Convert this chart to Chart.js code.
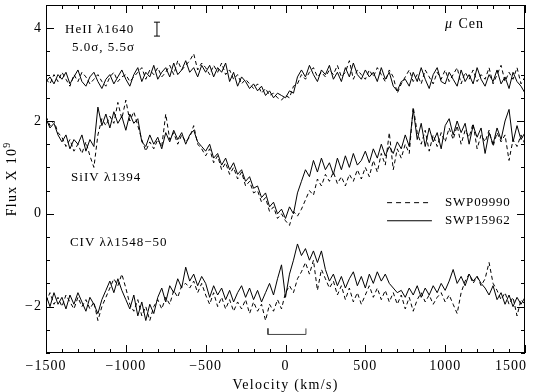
<!DOCTYPE html>
<html>
<head>
<meta charset="utf-8">
<script src="https://cdn.jsdelivr.net/npm/chart.js@4.4.1/dist/chart.umd.min.js"></script>
<style>
  html, body { margin: 0; padding: 0; background: #fff; }
  canvas { display: block; }
</style>
</head>
<body>
<canvas id="chart" width="540" height="392"></canvas>
<script>
// velocity grid (km/s)
const velocity = [
  -1500,-1475,-1450,-1425,-1400,-1375,-1350,-1325,-1300,-1275,
  -1250,-1225,-1200,-1175,-1150,-1125,-1100,-1075,-1050,-1025,
  -1000,-975,-950,-925,-900,-875,-850,-825,-800,-775,
  -750,-725,-700,-675,-650,-625,-600,-575,-550,-525,
  -500,-475,-450,-425,-400,-375,-350,-325,-300,-275,
  -250,-225,-200,-175,-150,-125,-100,-75,-50,-25,
  0,25,50,75,100,125,150,175,200,225,
  250,275,300,325,350,375,400,425,450,475,
  500,525,550,575,600,625,650,675,700,725,
  750,775,800,825,850,875,900,925,950,975,
  1000,1025,1050,1075,1100,1125,1150,1175,1200,1225,
  1250,1275,1300,1325,1350,1375,1400,1425,1450,1475,1500
];

// HeII 1640 (offset +3)
const heiiSolid = [
  2.85,2.95,2.8,3.0,2.9,3.05,2.8,2.95,3.1,2.85,
  2.75,2.95,3.05,2.85,2.7,2.9,3.0,2.8,2.95,3.1,
  2.9,2.75,3.0,3.15,2.85,3.05,2.95,3.2,2.9,3.05,
  3.15,2.95,3.25,3.0,3.1,3.3,3.05,3.15,2.95,3.2,
  3.05,3.2,2.95,3.15,3.05,3.25,2.85,3.05,2.75,2.95,
  2.85,2.7,2.8,2.65,2.75,2.55,2.65,2.5,2.6,2.55,
  2.5,2.65,2.6,2.95,3.1,2.95,3.2,3.0,2.85,3.1,
  3.0,3.2,2.9,3.05,2.85,3.15,2.95,3.25,3.0,2.9,
  3.1,2.95,3.05,2.85,3.15,2.9,3.05,2.75,2.65,2.85,
  2.9,2.75,3.05,2.85,3.15,2.9,2.7,3.0,3.15,2.85,
  2.8,3.05,2.9,2.75,3.1,2.85,3.0,2.8,3.15,2.9,
  2.75,3.0,2.85,3.1,2.8,2.95,2.7,3.05,2.85,2.75,2.6
];
const heiiDashed = [
  2.9,2.8,3.0,2.85,3.05,2.9,2.75,3.0,2.85,3.05,
  2.95,2.8,2.9,3.0,2.85,2.75,2.95,3.05,2.85,2.95,
  3.0,2.85,2.95,3.05,3.15,2.9,3.1,3.0,3.15,2.95,
  3.05,3.2,3.0,3.3,3.1,3.2,3.3,3.45,3.1,3.25,
  3.15,3.0,3.2,3.05,3.25,3.0,3.1,2.9,3.0,2.8,
  2.9,2.8,2.7,2.8,2.6,2.7,2.55,2.6,2.5,2.45,
  2.55,2.5,2.75,2.8,3.0,2.9,3.05,3.15,2.95,3.05,
  2.95,3.1,3.0,3.2,2.95,3.05,3.3,2.9,3.1,3.0,
  2.9,3.1,2.95,3.15,3.0,2.85,3.1,2.95,2.6,2.8,
  2.95,3.1,2.85,3.0,2.8,3.1,2.95,2.8,3.05,2.9,
  3.1,2.85,3.0,3.15,2.8,3.05,2.9,3.1,2.85,3.0,
  2.9,3.15,2.8,3.0,3.2,2.85,3.05,2.9,3.15,2.8,2.95
];

// SiIV 1394 (no offset)
const siivSolid = [
  2.05,1.85,1.95,1.7,1.55,1.7,1.4,1.6,1.5,1.7,
  1.35,1.6,1.45,2.3,1.9,2.15,1.85,2.2,1.95,2.1,
  1.8,2.15,1.95,2.05,1.55,1.45,1.7,1.5,1.65,1.4,
  1.75,1.55,1.8,1.6,1.75,1.5,1.7,1.8,1.55,1.45,
  1.35,1.5,1.2,1.3,1.05,1.2,0.95,1.1,0.85,0.95,
  0.7,0.8,0.55,0.6,0.35,0.45,0.15,0.25,0.0,0.1,
  -0.1,0.15,0.0,0.45,0.7,0.95,0.8,1.15,0.9,1.2,
  0.95,1.1,0.85,1.2,0.95,1.25,1.0,1.3,1.05,1.15,
  1.35,1.1,1.4,1.2,1.5,1.25,1.45,1.3,1.55,1.4,
  1.7,1.45,2.25,1.6,1.95,1.45,1.85,1.55,1.75,1.4,
  1.9,2.05,1.7,2.0,1.75,1.95,1.5,1.9,1.65,1.85,
  1.3,1.75,1.5,1.85,1.6,2.0,2.25,1.55,1.9,1.6,1.75
];
const siivDashed = [
  2.1,1.9,2.0,1.75,1.65,1.45,1.6,1.35,1.5,1.3,
  1.55,1.25,1.0,1.7,2.05,1.9,2.1,1.95,2.4,2.05,
  2.45,2.0,2.2,1.9,1.6,1.35,1.55,1.4,1.6,1.45,
  2.15,1.6,1.75,1.5,1.7,1.55,1.65,1.9,1.5,1.4,
  1.25,1.4,1.1,1.25,0.95,1.1,0.85,1.0,0.75,0.9,
  0.6,0.7,0.45,0.5,0.25,0.35,0.05,0.15,-0.1,0.0,
  -0.15,-0.25,0.05,-0.05,0.1,0.3,0.5,0.4,0.75,0.6,
  0.85,0.7,0.9,0.65,0.8,0.6,0.85,0.7,0.95,0.75,
  1.0,0.8,1.15,0.9,1.3,1.05,1.75,0.95,1.4,1.2,
  1.5,1.3,2.3,1.75,1.5,1.8,1.35,1.7,1.45,1.75,
  1.55,1.85,1.6,1.9,1.5,1.8,1.65,1.95,1.4,1.7,
  1.55,1.8,1.45,1.75,1.55,1.7,1.15,1.6,1.45,1.7,1.5
];

// CIV 1548-50 (offset -2)
const civSolid = [
  -1.75,-2.0,-1.7,-1.95,-1.8,-2.05,-1.75,-1.95,-1.7,-1.9,
  -2.1,-1.8,-1.95,-2.15,-1.85,-1.65,-1.45,-1.7,-1.4,-1.65,
  -1.85,-2.05,-1.75,-2.2,-1.9,-2.3,-1.95,-2.15,-1.8,-1.6,
  -1.9,-1.55,-1.7,-1.4,-1.6,-1.15,-1.45,-1.3,-1.55,-1.35,
  -1.5,-1.8,-1.55,-1.75,-1.6,-1.85,-1.65,-1.9,-1.7,-1.55,
  -1.8,-1.6,-1.85,-1.65,-1.9,-1.7,-1.5,-1.75,-1.4,-1.1,
  -1.8,-1.3,-1.0,-0.65,-0.9,-0.75,-1.0,-0.8,-1.05,-0.8,
  -1.2,-1.45,-1.3,-1.55,-1.35,-1.6,-1.4,-1.25,-1.55,-1.35,
  -1.6,-1.3,-1.5,-1.25,-1.45,-1.3,-1.5,-1.6,-1.7,-1.65,
  -1.8,-1.6,-1.75,-1.55,-1.8,-1.6,-1.75,-1.55,-1.7,-1.5,
  -1.65,-1.45,-1.2,-1.5,-1.35,-1.55,-1.3,-1.45,-1.35,-1.5,
  -1.6,-1.75,-1.55,-1.85,-1.7,-1.95,-1.75,-2.0,-1.8,-1.95,-1.8
];
const civDashed = [
  -1.9,-1.7,-1.95,-1.8,-2.0,-1.75,-1.9,-2.05,-1.8,-2.0,
  -1.85,-2.05,-1.9,-2.3,-2.0,-1.8,-1.6,-1.4,-1.55,-1.3,
  -1.6,-1.95,-2.1,-1.85,-2.2,-2.0,-2.3,-2.0,-1.85,-2.05,
  -1.8,-1.95,-1.65,-1.8,-1.55,-1.5,-1.6,-1.45,-1.7,-1.5,
  -1.75,-1.95,-1.7,-2.0,-1.8,-2.05,-1.85,-2.1,-1.9,-2.05,
  -1.85,-2.15,-1.9,-2.1,-1.95,-2.3,-1.95,-2.1,-1.85,-2.05,
  -1.7,-1.55,-1.7,-1.4,-1.25,-1.05,-1.3,-1.0,-1.65,-1.2,
  -1.4,-1.6,-1.45,-1.75,-1.55,-1.85,-1.6,-1.9,-1.7,-1.95,
  -1.75,-1.55,-1.8,-1.6,-1.85,-1.65,-1.9,-1.7,-1.95,-1.75,
  -2.05,-1.8,-2.1,-1.85,-1.7,-1.9,-1.75,-1.95,-1.8,-1.7,
  -1.9,-1.75,-1.95,-2.15,-1.7,-1.45,-1.3,-1.5,-1.35,-1.55,
  -1.4,-1.05,-1.5,-1.65,-1.85,-1.7,-1.95,-1.8,-2.2,-1.85,-1.95
];

const xTickLabels = [-1500, -1000, -500, 0, 500, 1000, 1500];
const yTickLabels = [-2, 0, 2, 4];
const seriesNames = ['SWP09990', 'SWP15962'];

// error bar on HeII and the velocity bracket under CIV
const errBarV = [-805, -805];
const errBarF = [3.83, 4.13];
const bracketV = [-110, -110, 128, 128];
const bracketF = [-2.47, -2.6, -2.6, -2.47];

const FONT = '"Liberation Serif", "DejaVu Serif", serif';
const DASH = [4, 3];

function pts(xs, ys) {
  return xs.map((v, i) => ({x: v, y: ys[i]}));
}

function spectrum(ys, dashed) {
  return {
    data: pts(velocity, ys),
    borderColor: '#000',
    borderWidth: 1,
    borderDash: dashed ? DASH : [],
    pointRadius: 0,
    tension: 0,
    fill: false
  };
}

function minus(v) {
  return String(v).replace('-', '\u2212');
}

function setFont(ctx, size, spacing, style) {
  ctx.font = (style ? style + ' ' : '') + size + 'px ' + FONT;
  ctx.letterSpacing = spacing + 'px';
}

const decor = {
  id: 'decor',
  afterDatasetsDraw(chart) {
    const {ctx, chartArea: a, scales: {x, y}} = chart;
    ctx.save();
    ctx.strokeStyle = '#000';
    ctx.fillStyle = '#000';
    ctx.lineWidth = 1;
    ctx.strokeRect(a.left + 0.5, a.top + 0.5, a.right - a.left - 1, a.bottom - a.top - 1);

    // inward ticks on all four sides
    ctx.beginPath();
    for (let v = -1500; v <= 1500; v += 100) {
      const px = Math.round(x.getPixelForValue(v)) + 0.5;
      const len = v % 500 === 0 ? 8 : 4;
      ctx.moveTo(px, a.bottom); ctx.lineTo(px, a.bottom - len);
      ctx.moveTo(px, a.top); ctx.lineTo(px, a.top + len);
    }
    for (let f = -3; f <= 4.5; f += 0.5) {
      const py = Math.round(y.getPixelForValue(f)) + 0.5;
      const len = yTickLabels.includes(f) ? 8 : 4;
      ctx.moveTo(a.left, py); ctx.lineTo(a.left + len, py);
      ctx.moveTo(a.right, py); ctx.lineTo(a.right - len, py);
    }
    ctx.stroke();

    // tick labels
    setFont(ctx, 14, 1);
    ctx.textBaseline = 'middle';
    ctx.textAlign = 'right';
    yTickLabels.forEach(f => ctx.fillText(minus(f), a.left - 4, y.getPixelForValue(f)));
    ctx.textAlign = 'center';
    xTickLabels.forEach(v => {
      const s = minus(v);
      let px = x.getPixelForValue(v);
      const w = ctx.measureText(s).width;
      if (px + w / 2 > chart.width - 13) px = chart.width - 13 - w / 2;
      ctx.fillText(s, px, a.bottom + 13);
    });

    // axis titles
    setFont(ctx, 14, 1.3);
    ctx.fillText('Velocity (km/s)', (a.left + a.right) / 2, 385);
    ctx.save();
    ctx.translate(12, (a.top + a.bottom) / 2);
    ctx.rotate(-Math.PI / 2);
    const main = 'Flux X 10';
    const wm = ctx.measureText(main).width;
    ctx.textAlign = 'left';
    ctx.fillText(main, -(wm + 6) / 2, 0);
    setFont(ctx, 10, 0);
    ctx.fillText('9', -(wm + 6) / 2 + wm, -5);
    ctx.restore();

    // line labels
    setFont(ctx, 13, 1);
    ctx.textAlign = 'left';
    ctx.fillText('HeII \u03bb1640', x.getPixelForValue(-1381), y.getPixelForValue(3.98));
    ctx.fillText('5.0\u03c3, 5.5\u03c3', x.getPixelForValue(-1337), y.getPixelForValue(3.58));
    ctx.fillText('SiIV \u03bb1394', x.getPixelForValue(-1343), y.getPixelForValue(0.77));
    ctx.fillText('CIV \u03bb\u03bb1548\u221250', x.getPixelForValue(-1350), y.getPixelForValue(-0.61));

    // star name
    setFont(ctx, 14, 0, 'italic');
    const mx = x.getPixelForValue(999), my = y.getPixelForValue(4.09);
    ctx.fillText('\u03bc', mx, my);
    const mw = ctx.measureText('\u03bc').width;
    setFont(ctx, 14, 1);
    ctx.fillText(' Cen', mx + mw + 2, my);

    // legend text
    setFont(ctx, 13, 0.8);
    ctx.fillText(seriesNames[0], x.getPixelForValue(999), y.getPixelForValue(0.24));
    ctx.fillText(seriesNames[1], x.getPixelForValue(999), y.getPixelForValue(-0.15));
    ctx.restore();
  }
};

new Chart(document.getElementById('chart'), {
  type: 'line',
  data: {
    datasets: [
      spectrum(heiiDashed, true),
      spectrum(heiiSolid, false),
      spectrum(siivDashed, true),
      spectrum(siivSolid, false),
      spectrum(civDashed, true),
      spectrum(civSolid, false),
      // legend samples
      {data: pts([636, 917], [0.24, 0.24]), borderColor: '#000', borderWidth: 1, borderDash: [5, 4], pointRadius: 0},
      {data: pts([636, 917], [-0.15, -0.15]), borderColor: '#000', borderWidth: 1, pointRadius: 0},
      // error bar
      {data: pts(errBarV, errBarF), borderColor: '#000', borderWidth: 1, pointStyle: 'line',
        pointRadius: 3, pointBorderColor: '#000', pointBorderWidth: 1},
      // bracket
      {data: pts(bracketV, bracketF), borderColor: '#444', borderWidth: 1, pointRadius: 0}
    ]
  },
  options: {
    responsive: false,
    animation: false,
    devicePixelRatio: 1,
    layout: {padding: {top: 1, right: 15, left: 0, bottom: 0}},
    plugins: {legend: {display: false}, tooltip: {enabled: false}},
    scales: {
      x: {
        type: 'linear', min: -1500, max: 1500,
        grid: {display: false, drawTicks: false},
        border: {display: false},
        ticks: {display: false},
        afterFit: s => { s.height = 39; }
      },
      y: {
        type: 'linear', min: -3, max: 4.5,
        grid: {display: false, drawTicks: false},
        border: {display: false},
        ticks: {display: false},
        afterFit: s => { s.width = 46; }
      }
    }
  },
  plugins: [decor]
});
</script>
</body>
</html>
